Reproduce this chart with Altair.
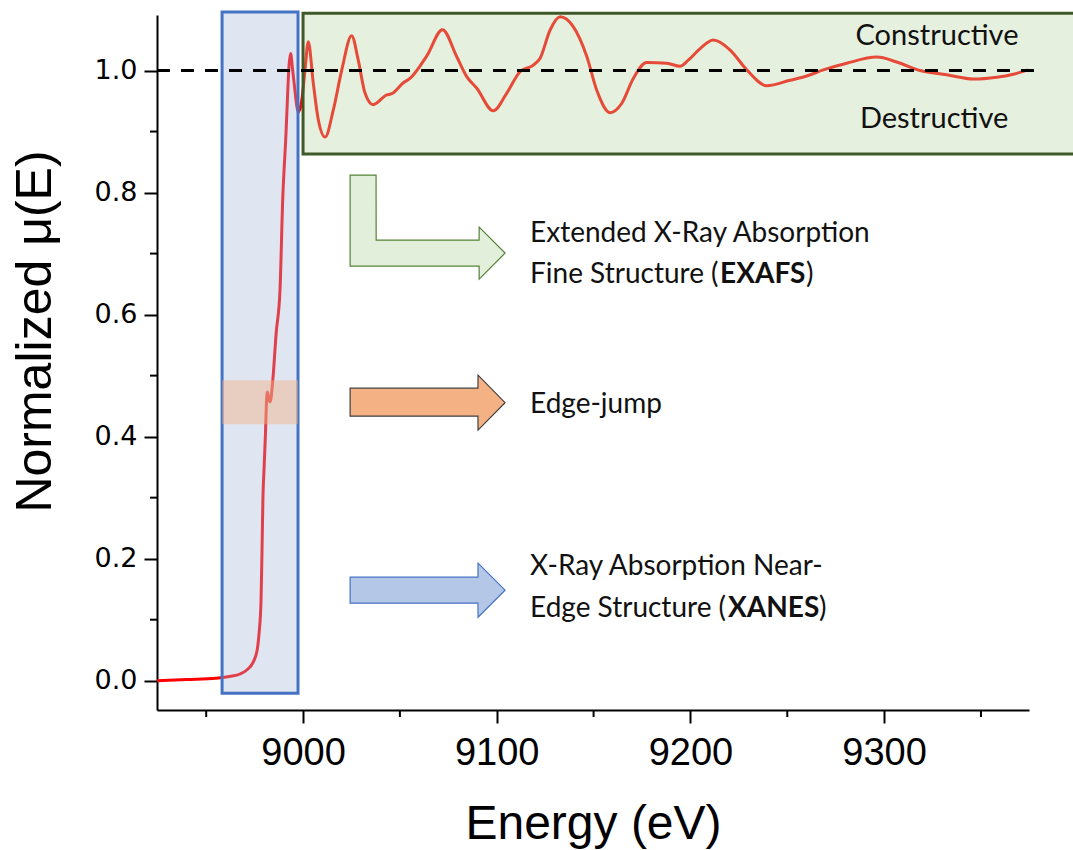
import altair as alt
import pandas as pd

# ---------------- data ----------------
energy = [8924.6, 8940.0, 8955.0, 8962.0, 8967.5, 8971.1, 8974.2, 8976.3, 8977.3, 8978.3,
          8978.8, 8979.3, 8979.9, 8980.6, 8981.1, 8981.6, 8982.3, 8983.0, 8984.4, 8986.1,
          8988.1, 8989.5, 8991.2, 8991.9, 8992.7, 8993.6, 8994.5, 8995.4, 8997.6, 8999.3,
          9001.0, 9002.7, 9005.3, 9007.9, 9011.4, 9015.6, 9020.0, 9025.1, 9028.5, 9032.0,
          9036.1, 9043.2, 9045.8, 9051.8, 9055.2, 9063.9, 9072.0, 9079.3, 9084.5, 9089.7,
          9098.2, 9105.2, 9112.0, 9118.9, 9122.4, 9127.5, 9132.7, 9139.5, 9146.5, 9151.6,
          9158.5, 9164.5, 9170.5, 9177.4, 9187.8, 9194.6, 9198.9, 9205.0, 9211.8, 9220.4,
          9229.1, 9239.4, 9251.4, 9260.0, 9268.6, 9280.7, 9296.2, 9306.5, 9318.5, 9332.3,
          9346.1, 9358.1, 9366.7, 9374.4]
mu = [0.000, 0.002, 0.004, 0.007, 0.011, 0.018, 0.030, 0.050, 0.078, 0.130,
      0.210, 0.300, 0.350, 0.405, 0.455, 0.473, 0.462, 0.457, 0.493, 0.569,
      0.640, 0.788, 0.897, 0.950, 1.005, 1.028, 1.005, 0.979, 0.932, 0.950,
      1.000, 1.047, 0.979, 0.919, 0.891, 0.935, 1.001, 1.057, 1.017, 0.963,
      0.944, 0.960, 0.962, 0.980, 0.987, 1.024, 1.067, 1.023, 0.990, 0.971,
      0.934, 0.963, 0.998, 1.009, 1.020, 1.066, 1.088, 1.072, 1.023, 0.968,
      0.931, 0.946, 0.987, 1.013, 1.012, 1.007, 1.017, 1.036, 1.050, 1.034,
      1.001, 0.975, 0.984, 0.991, 1.001, 1.012, 1.022, 1.014, 1.000, 0.993,
      0.986, 0.989, 0.994, 1.001]

x_ticks = [9000, 9100, 9200, 9300]
x_minor = [8950, 9050, 9150, 9250, 9350]
y_ticks = [0.0, 0.2, 0.4, 0.6, 0.8, 1.0]
y_minor = [0.1, 0.3, 0.5, 0.7, 0.9]

x_domain = [8924.6, 9374.8]
y_domain = [-0.048, 1.091]

# region boxes (energy / mu units)
box_names = ["XANES", "EXAFS"]
box_x1 = [8958.2, 9000.0]
box_x2 = [8997.4, 9400.0]
box_y1 = [-0.0205, 0.863]
box_y2 = [1.096, 1.094]

band_x = [8958.2, 8997.4]
band_y = [0.4205, 0.4926]

ref_line_x = [8924.6, 9378.0]
ref_line_y = 1.0

# arrows (outline points in energy / mu units)
arrow_green_x = [9024.3, 9037.7, 9037.75, 9090.9, 9090.95, 9104.3]
arrow_green_top = [0.8287, 0.8287, 0.7221, 0.7221, 0.7434, 0.7008]
arrow_green_bot = [0.6795, 0.6795, 0.6795, 0.6795, 0.6582, 0.7008]

arrow_orange_x = [9024.3, 9090.3, 9090.35, 9104.3]
arrow_orange_top = [0.4795, 0.4795, 0.5008, 0.4557]
arrow_orange_bot = [0.4336, 0.4336, 0.4107, 0.4557]

arrow_blue_x = [9024.3, 9090.3, 9090.35, 9104.3]
arrow_blue_top = [0.1697, 0.1697, 0.1926, 0.1484]
arrow_blue_bot = [0.1270, 0.1270, 0.1041, 0.1484]

# labels
label_text = ["Extended X-Ray Absorption", "Fine Structure (", ")", "Edge-jump",
              "X-Ray Absorption Near-", "Edge Structure (", ")"]
label_x = [9117.2, 9117.2, 9259.7, 9117.2, 9117.2, 9117.2, 9266.4]
label_y = [0.7189, 0.6516, 0.6516, 0.4385, 0.1730, 0.1041, 0.1041]
bold_text = ["EXAFS", "XANES"]
bold_x = [9215.3, 9219.4]
bold_y = [0.6516, 0.1041]

cd_text = ["Constructive", "Destructive"]
cd_x = [9327.3, 9325.8]
cd_y = [1.0418, 0.9057]

# ---------------- chart ----------------
W, H = 872, 695
xs = alt.Scale(domain=x_domain, nice=False, zero=False)
ys = alt.Scale(domain=y_domain, nice=False, zero=False)
AX = "Liberation Sans"
TX = "Lato"
FS = 28

x_axis = alt.Axis(values=x_ticks, format="d", grid=False, tickSize=13, tickWidth=2,
                  tickColor="black", domainColor="black", domainWidth=2,
                  labelFont=AX, labelFontSize=38, labelColor="black", labelPadding=11,
                  title="Energy (eV)", titleFont=AX, titleFontSize=48,
                  titleFontWeight="normal", titleColor="black",
                  titleY=128, titleBaseline="alphabetic")
y_axis = alt.Axis(values=y_ticks, format=".1f", grid=False, tickSize=13, tickWidth=2,
                  tickColor="black", domainColor="black", domainWidth=2,
                  labelFont="DejaVu Sans", labelFontSize=27, labelColor="black",
                  labelPadding=7,
                  title="Normalized μ(E)", titleFont=AX, titleFontSize=50,
                  titleFontWeight="normal", titleColor="black",
                  titleX=-122, titleY=316, titleBaseline="middle")


def X(field):
    return alt.X(field, scale=xs, axis=x_axis)


def Y(field):
    return alt.Y(field, scale=ys, axis=y_axis)


curve_df = pd.DataFrame({"E": energy, "mu": mu})
curve = alt.Chart(curve_df).mark_line(color="#ff0000", strokeWidth=3,
                                      interpolate="monotone").encode(
    x=X("E:Q"), y=Y("mu:Q"))

boxes_df = pd.DataFrame({"name": box_names, "x1": box_x1, "x2": box_x2,
                         "y1": box_y1, "y2": box_y2})
boxes = alt.Chart(boxes_df).mark_rect(fillOpacity=0.35, strokeWidth=3).encode(
    x=X("x1:Q"), x2="x2:Q", y=Y("y1:Q"), y2="y2:Q",
    fill=alt.Fill("name:N", scale=alt.Scale(domain=box_names,
                  range=["#a4b8da", "#b8d4a1"]), legend=None),
    stroke=alt.Stroke("name:N", scale=alt.Scale(domain=box_names,
                      range=["#4472c4", "#3f5a28"]), legend=None),
)

band_df = pd.DataFrame({"x1": [band_x[0]], "x2": [band_x[1]],
                        "y1": [band_y[0]], "y2": [band_y[1]]})
band = alt.Chart(band_df).mark_rect(color="#f4b183", opacity=0.45).encode(
    x=X("x1:Q"), x2="x2:Q", y=Y("y1:Q"), y2="y2:Q")

ref_df = pd.DataFrame({"x1": [ref_line_x[0]], "x2": [ref_line_x[1]], "y": [ref_line_y]})
ref = alt.Chart(ref_df).mark_rule(color="black", strokeWidth=3,
                                  strokeDash=[13, 11]).encode(
    x=X("x1:Q"), x2="x2:Q", y=Y("y:Q"))


def arrow(xv, top, bot, fill, stroke):
    df = pd.DataFrame({"x": xv, "t": top, "b": bot})
    return alt.Chart(df).mark_area(fill=fill, stroke=stroke, strokeWidth=1.2,
                                   interpolate="linear", opacity=1).encode(
        x=X("x:Q"), y=Y("t:Q"), y2="b:Q")


a_green = arrow(arrow_green_x, arrow_green_top, arrow_green_bot, "#e2efda", "#548235")
a_orange = arrow(arrow_orange_x, arrow_orange_top, arrow_orange_bot, "#f4b183", "#404040")
a_blue = arrow(arrow_blue_x, arrow_blue_top, arrow_blue_bot, "#b4c7e7", "#4472c4")

lab_df = pd.DataFrame({"t": label_text, "x": label_x, "y": label_y})
labels = alt.Chart(lab_df).mark_text(font=TX, fontSize=FS, align="left",
                                     baseline="alphabetic", color="#111111").encode(
    x=X("x:Q"), y=Y("y:Q"), text="t:N")

bold_df = pd.DataFrame({"t": bold_text, "x": bold_x, "y": bold_y})
bolds = alt.Chart(bold_df).mark_text(font=TX, fontSize=FS, fontWeight="bold", align="left",
                                     baseline="alphabetic", color="#111111").encode(
    x=X("x:Q"), y=Y("y:Q"), text="t:N")

cd_df = pd.DataFrame({"t": cd_text, "x": cd_x, "y": cd_y})
cds = alt.Chart(cd_df).mark_text(font=TX, fontSize=29, align="center",
                                 baseline="alphabetic", color="#111111").encode(
    x=X("x:Q"), y=Y("y:Q"), text="t:N")

xm_df = pd.DataFrame({"v": x_minor})
xminor = alt.Chart(xm_df).mark_rule(color="black", strokeWidth=2).encode(
    x=X("v:Q"), y=alt.value(H), y2=alt.value(H + 7))
ym_df = pd.DataFrame({"v": y_minor})
yminor = alt.Chart(ym_df).mark_rule(color="black", strokeWidth=2).encode(
    y=Y("v:Q"), x=alt.value(0), x2=alt.value(-7))

chart = alt.layer(
    curve, boxes, band, ref, a_green, a_orange, a_blue, labels, bolds, cds, xminor, yminor
).properties(
    width=W, height=H,
    autosize=alt.AutoSizeParams(type="none"),
    padding={"left": 157, "top": 15, "right": 44, "bottom": 140},
    background="white",
).configure_view(stroke=None)

chart.save("out.html", embed_options={"renderer": "svg", "actions": False})
